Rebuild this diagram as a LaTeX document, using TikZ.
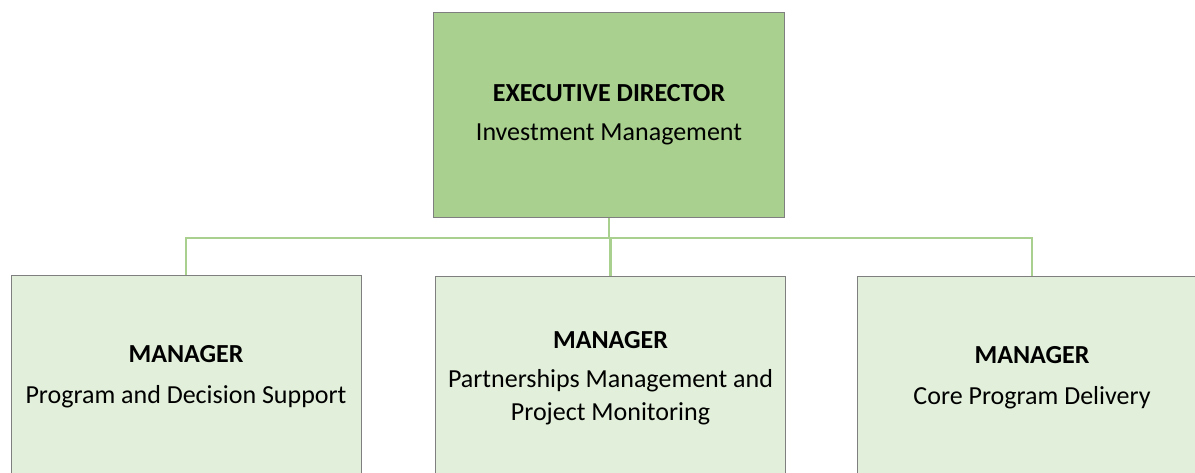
\documentclass[tikz,border=0pt]{standalone}
\usepackage{fontspec}
\setmainfont{Carlito}
\usetikzlibrary{positioning}

\definecolor{headgreen}{HTML}{A9D08E}
\definecolor{unitgreen}{HTML}{E2EFDA}
\definecolor{boxline}{HTML}{7F7F7F}

\tikzset{
  orgbox/.style={draw=boxline, line width=0.8pt, inner sep=0pt, align=center,
    minimum width=351pt, minimum height=205pt,
    font=\fontsize{26}{32.7}\selectfont},
  headbox/.style={orgbox, fill=headgreen},
  unitbox/.style={orgbox, fill=unitgreen, minimum width=350pt, minimum height=204pt},
  link/.style={draw=headgreen, line width=2.6pt}
}

\begin{document}
\begin{tikzpicture}[x=1pt,y=-1pt]

\useasboundingbox (0,0) rectangle (1195,472);
\clip (0,0) rectangle (1195,472);

\node[headbox] (exec) at (609,115) {\textbf{EXECUTIVE DIRECTOR}\\[6pt]Investment Management};

\node[unitbox] (mgrA) at (186,377) {\textbf{MANAGER}\\[8pt]Program and Decision Support};
\node[unitbox] (mgrB) at (610.5,378) {\textbf{MANAGER}\\[7pt]Partnerships Management and\\Project Monitoring};
\node[unitbox] (mgrC) at (1032,378) {\textbf{MANAGER}\\[8pt]Core Program Delivery};

\coordinate (bus) at (609,238);

\draw[link] (exec.south) -- (bus);
\draw[link] (bus) -| (mgrA.north);
\draw[link] (bus) -| (mgrB.north);
\draw[link] (bus) -| (mgrC.north);

\end{tikzpicture}
\end{document}
